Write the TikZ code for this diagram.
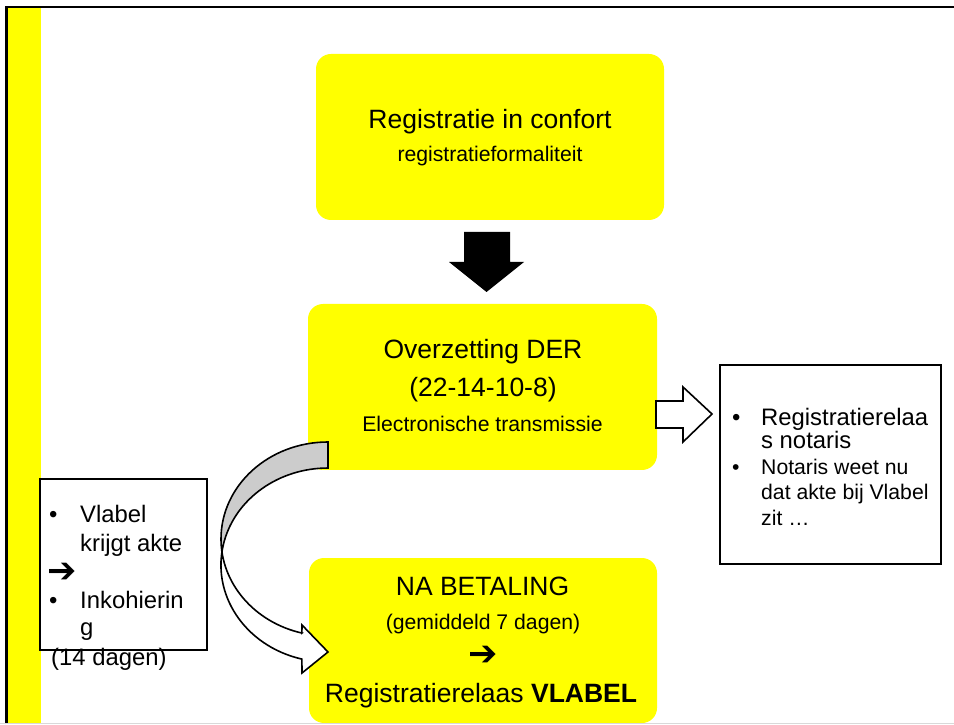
\documentclass[tikz,border=0pt]{standalone}
\usepackage{fontspec}
\setmainfont{Liberation Sans}
\newfontfamily\symfont{DejaVu Sans}
\definecolor{ylw}{RGB}{255,255,0}
\definecolor{backgray}{RGB}{204,204,204}
\begin{document}
\begin{tikzpicture}[x=1pt,y=1pt,
  ybox/.style={fill=ylw, rounded corners=15pt, inner sep=0pt, draw=none},
  wbox/.style={draw=black, fill=white, line width=1.6pt, inner sep=0pt},
  big/.style={font=\fontsize{26.5}{30}\selectfont, inner sep=0pt, anchor=base},
  small/.style={font=\fontsize{21.2}{25}\selectfont, inner sep=0pt, anchor=base},
  lbl/.style={font=\fontsize{23.85}{28}\selectfont, inner sep=0pt, anchor=base west},
  lbls/.style={font=\fontsize{21.2}{25}\selectfont, inner sep=0pt, anchor=base west},
  sym/.style={font=\symfont\bfseries\fontsize{35}{35}\selectfont, inner sep=0pt},
  outl/.style={draw=black, line width=1.6pt, line join=miter}
]
\useasboundingbox (0,0) rectangle (954,724);
% side strip and frame
\fill[ylw] (8,0) rectangle (41,716);
\draw[line width=2.3pt, line join=miter] (6.5,0) -- (6.5,717) -- (954,717);
% yellow boxes
\node[ybox, minimum width=348pt, minimum height=166pt] (top) at (490,587) {};
\node[ybox, minimum width=349pt, minimum height=166pt] (mid) at (482.5,337) {};
\node[ybox, minimum width=348pt, minimum height=165pt] (bot) at (483,83.5) {};
% black down arrow
\fill[black] (464,492) -- (510,492) -- (510,462) -- (524,462) -- (486.5,432) -- (449,462) -- (464,462) -- cycle;
% hollow right arrow
\draw[outl, fill=white] (656,323) -- (683,323) -- (683,337) -- (712,310) -- (683,282) -- (683,296) -- (656,296) -- cycle;
% white boxes
\node[wbox, minimum width=221pt, minimum height=199pt] (rbox) at (830.5,259.5) {};
\node[wbox, minimum width=167pt, minimum height=171pt] (lbox) at (123.5,159.5) {};
% curved arrow
\fill[backgray] (328,282) arc[start angle=90, end angle=180, x radius=107pt, y radius=97pt]
  -- (221,159) arc[start angle=180, end angle=90, x radius=107pt, y radius=97pt] -- cycle;
\fill[white] (221,185) arc[start angle=180, end angle=255.9, x radius=107pt, y radius=97pt]
  -- (302,99) -- (328,72) -- (302,51) -- (301.9,64.9)
  arc[start angle=255.9, end angle=180, x radius=107pt, y radius=97pt] -- cycle;
\draw[outl] (301.9,90.9) -- (302,99) -- (328,72) -- (302,51) -- (301.9,64.9)
  arc[start angle=255.9, end angle=90, x radius=107pt, y radius=97pt]
  -- (328,282) arc[start angle=90, end angle=255.9, x radius=107pt, y radius=97pt] -- cycle;
% texts top box
\node[big] (t1) at (490,595) {Registratie in confort};
\node[small] (t2) at (490,562) {registratieformaliteit};
% texts middle box
\node[big] (m1) at (483,365) {Overzetting DER};
\node[big] (m2) at (483,327) {(22-14-10-8)};
\node[small] (m3) at (482.5,292) {Electronische transmissie};
% texts bottom box
\node[big] (b1) at (482.5,129) {NA BETALING};
\node[small] (b2) at (483,95) {(gemiddeld 7 dagen)};
\node[sym] (b3) at (483.5,68) {➔};
\node[big] (b4) at (481,22) {Registratierelaas \textbf{VLABEL}};
% right box texts
\node[lbl] (rb1) at (732,298) {•};
\node[lbl] (r1) at (761,298) {Registratierelaa};
\node[lbl] (r2) at (761,275) {s notaris};
\node[lbls] (rb2) at (732,249) {•};
\node[lbls] (r3) at (761,249) {Notaris weet nu};
\node[lbls] (r4) at (761,224) {dat akte bij Vlabel};
\node[lbls] (r5) at (761,199) {zit …};
% left box texts
\node[lbl] (lb1) at (49,201) {•};
\node[lbl] (l1) at (80,201) {Vlabel};
\node[lbl] (l2) at (80,173) {krijgt akte};
\node[sym] (l3) at (62.5,151.5) {➔};
\node[lbl] (lb2) at (49,116) {•};
\node[lbl] (l4) at (80,116) {Inkohierin};
\node[lbl] (l5) at (80,89) {g};
\node[lbl] (l6) at (51,59) {(14 dagen)};
% slide edge
\draw[black!15, line width=1.5pt] (0,0.75) -- (954,0.75);
\end{tikzpicture}
\end{document}
